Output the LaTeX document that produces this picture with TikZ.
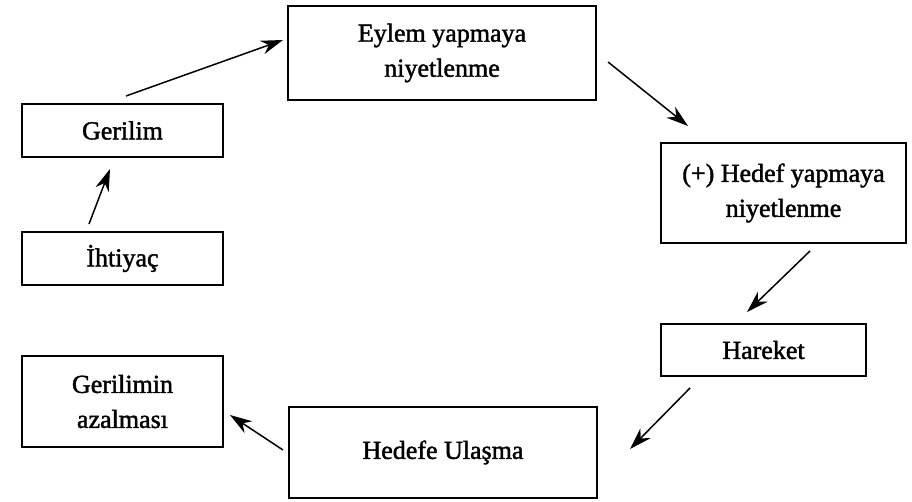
\documentclass[tikz,border=0pt]{standalone}
\usepackage{fontspec}
\newfontfamily\boxfont{Liberation Serif}[FakeBold=1.6]
\usetikzlibrary{arrows.meta}
\begin{document}
\begin{tikzpicture}[x=1pt,y=-1pt,
  box/.style={draw, line width=1.4pt, rectangle, inner sep=0pt, align=center,
    font=\boxfont\fontsize{26}{35}\selectfont},
  conn/.style={line width=1.5pt, -{Stealth[length=22pt,width=14pt,inset=7pt]}}]
\useasboundingbox (0,0) rectangle (912,502);
\fill[white] (0,0) rectangle (912,502);
\node[box, minimum width=201pt, minimum height=53pt] (gerilim) at (122.5,130.5) {Gerilim};
\node[box, minimum width=201pt, minimum height=53pt] (ihtiyac) at (122.5,258.5) {İhtiyaç};
\node[box, minimum width=308pt, minimum height=94pt] (eylem) at (442,53) {Eylem yapmaya\\niyetlenme};
\node[box, minimum width=245pt, minimum height=100pt] (hedef) at (783.5,193) {(+) Hedef yapmaya\\niyetlenme};
\node[box, minimum width=205pt, minimum height=52pt] (hareket) at (763.5,350) {Hareket};
\node[box, minimum width=201pt, minimum height=91pt] (azalma) at (122.5,401.5) {Gerilimin\\azalması};
\node[box, minimum width=308pt, minimum height=91pt] (ulasma) at (443,452.5) {Hedefe Ulaşma};
\coordinate (a1s) at (89,224);   \coordinate (a1e) at (110,169);
\coordinate (a2s) at (126,96);   \coordinate (a2e) at (283,40);
\coordinate (a3s) at (608,62);   \coordinate (a3e) at (688,126);
\coordinate (a4s) at (810,251);  \coordinate (a4e) at (747,312);
\coordinate (a5s) at (690,388);  \coordinate (a5e) at (630,449);
\coordinate (a6s) at (283,450);  \coordinate (a6e) at (230,415);
\draw[conn] (a1s) -- (a1e);
\draw[conn] (a2s) -- (a2e);
\draw[conn] (a3s) -- (a3e);
\draw[conn] (a4s) -- (a4e);
\draw[conn] (a5s) -- (a5e);
\draw[conn] (a6s) -- (a6e);
\end{tikzpicture}
\end{document}
